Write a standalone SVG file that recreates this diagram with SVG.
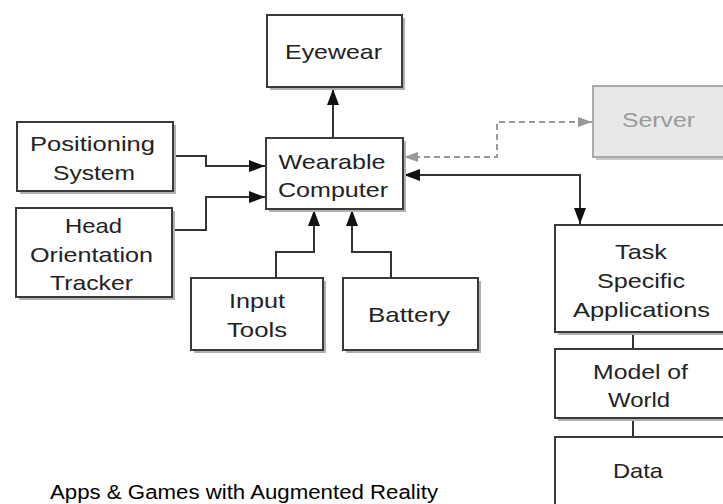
<svg xmlns="http://www.w3.org/2000/svg" width="723" height="504" viewBox="0 0 723 504">
<defs>
<style>
.box{fill:#fff;stroke:#3a3a3a;stroke-width:2}
.sh{fill:#b0b0b0}
.t{font-family:"Liberation Sans",Arial,sans-serif;font-size:21px;fill:#222;text-anchor:middle}
.ln{fill:none;stroke:#333;stroke-width:2}
.dl{fill:none;stroke:#999;stroke-width:2;stroke-dasharray:6,4}
</style>
<marker id="ah" viewBox="0 0 16 12" refX="16" refY="6" markerWidth="16" markerHeight="12" markerUnits="userSpaceOnUse" orient="auto-start-reverse">
<path d="M0,0 L16,6 L0,12 z" fill="#111"/>
</marker>
<marker id="ag" viewBox="0 0 14 10" refX="14" refY="5" markerWidth="14" markerHeight="10" markerUnits="userSpaceOnUse" orient="auto-start-reverse">
<path d="M0,0 L14,5 L0,10 z" fill="#999"/>
</marker>
</defs>
<rect width="723" height="504" fill="#fff"/>

<g id="connectors">
<path class="ln" d="M333,138 V89" marker-end="url(#ah)"/>
<path class="ln" d="M173,156 H206 V166 H265" marker-end="url(#ah)"/>
<path class="ln" d="M172,230 H206 V197 H265" marker-end="url(#ah)"/>
<path class="ln" d="M276,278 V252 H314 V210" marker-end="url(#ah)"/>
<path class="ln" d="M391,278 V252 H352 V210" marker-end="url(#ah)"/>
<path class="ln" d="M404,175 H580 V224" marker-start="url(#ah)" marker-end="url(#ah)"/>
<path class="dl" d="M404,157 H497 V122 H592" marker-start="url(#ag)" marker-end="url(#ag)"/>
<path class="ln" d="M633,332 V349"/>
<path class="ln" d="M633,418 V437"/>
</g>

<g id="eyewear">
<rect class="sh" x="270" y="18" width="135" height="72"/>
<rect class="box" x="267" y="15" width="135" height="72"/>
<text class="t" x="333.5" y="59" textLength="97" lengthAdjust="spacingAndGlyphs">Eyewear</text>
</g>

<g id="wearable">
<rect class="sh" x="269" y="141" width="137" height="71"/>
<rect class="box" x="266" y="138" width="137" height="71"/>
<text class="t" x="332" y="169" textLength="107" lengthAdjust="spacingAndGlyphs">Wearable</text>
<text class="t" x="333" y="197" textLength="110" lengthAdjust="spacingAndGlyphs">Computer</text>
</g>

<g id="positioning">
<rect class="sh" x="20" y="125" width="156" height="69"/>
<rect class="box" x="17" y="122" width="156" height="69"/>
<text class="t" x="92.5" y="151" textLength="125" lengthAdjust="spacingAndGlyphs">Positioning</text>
<text class="t" x="94" y="180" textLength="82" lengthAdjust="spacingAndGlyphs">System</text>
</g>

<g id="head">
<rect class="sh" x="19" y="211" width="156" height="89"/>
<rect class="box" x="16" y="208" width="156" height="89"/>
<text class="t" x="93.5" y="233" textLength="57" lengthAdjust="spacingAndGlyphs">Head</text>
<text class="t" x="91.5" y="262" textLength="123" lengthAdjust="spacingAndGlyphs">Orientation</text>
<text class="t" x="91.5" y="290" textLength="83" lengthAdjust="spacingAndGlyphs">Tracker</text>
</g>

<g id="input">
<rect class="sh" x="194" y="281" width="132" height="72"/>
<rect class="box" x="191" y="278" width="132" height="72"/>
<text class="t" x="257" y="308" textLength="56" lengthAdjust="spacingAndGlyphs">Input</text>
<text class="t" x="257" y="337" textLength="60" lengthAdjust="spacingAndGlyphs">Tools</text>
</g>

<g id="battery">
<rect class="sh" x="346" y="281" width="135" height="72"/>
<rect class="box" x="343" y="278" width="135" height="72"/>
<text class="t" x="409" y="322" textLength="82" lengthAdjust="spacingAndGlyphs">Battery</text>
</g>

<g id="server">
<rect fill="#c8c8c8" x="596" y="89" width="140" height="71"/>
<rect fill="#e8e8e8" stroke="#aaa" stroke-width="2" x="593" y="86" width="140" height="71"/>
<text class="t" x="658.5" y="127" textLength="73" lengthAdjust="spacingAndGlyphs" style="fill:#9a9a9a">Server</text>
</g>

<g id="task">
<rect class="sh" x="558" y="228" width="172" height="107"/>
<rect class="box" x="555" y="225" width="172" height="107"/>
<text class="t" x="641" y="259" textLength="52" lengthAdjust="spacingAndGlyphs">Task</text>
<text class="t" x="641" y="288" textLength="88" lengthAdjust="spacingAndGlyphs">Specific</text>
<text class="t" x="641.5" y="317" textLength="137" lengthAdjust="spacingAndGlyphs">Applications</text>
</g>

<g id="model">
<rect class="sh" x="558" y="352" width="172" height="69"/>
<rect class="box" x="555" y="349" width="172" height="69"/>
<text class="t" x="640.5" y="379" textLength="95" lengthAdjust="spacingAndGlyphs">Model of</text>
<text class="t" x="639" y="407" textLength="62" lengthAdjust="spacingAndGlyphs">World</text>
</g>

<g id="data">
<rect class="sh" x="558" y="440" width="172" height="80"/>
<rect class="box" x="555" y="437" width="172" height="80"/>
<text class="t" x="638" y="478" textLength="50" lengthAdjust="spacingAndGlyphs">Data</text>
</g>

<text x="50" y="499" font-family="Liberation Sans, Arial, sans-serif" font-size="20" fill="#000" textLength="388" lengthAdjust="spacingAndGlyphs">Apps &amp; Games with Augmented Reality</text>
</svg>
